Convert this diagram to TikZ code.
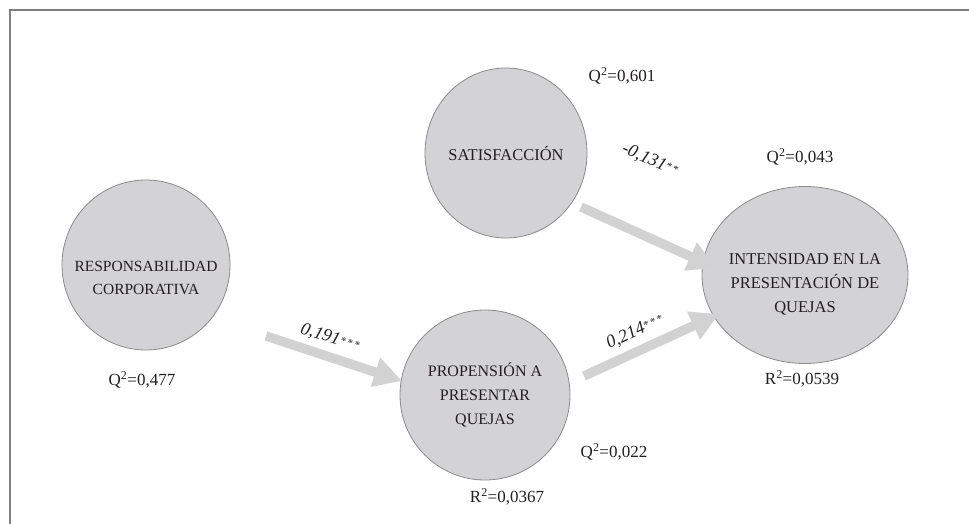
\documentclass[tikz,border=0pt]{standalone}
\usepackage{fontspec}
\setmainfont{Liberation Serif}
\usetikzlibrary{shapes.geometric,arrows.meta,calc}
\definecolor{ellfill}{HTML}{D3D3D5}
\definecolor{elldraw}{HTML}{8A8A8A}
\definecolor{arrgray}{HTML}{D2D2D2}
\definecolor{framegray}{HTML}{7F7F7F}
\definecolor{txt}{HTML}{231F20}
\tikzset{
  latent/.style={ellipse, draw=elldraw, fill=ellfill, line width=0.8pt, inner sep=0pt},
  latenttext/.style={align=center, text=txt, inner sep=0pt, font=\fontsize{16.5}{24}\selectfont},
  stat/.style={text=txt, font=\fontsize{17}{19}\selectfont, inner sep=0pt},
  coef/.style={text=txt, font=\fontsize{18}{20}\selectfont\itshape, inner sep=0pt},
  patharrow/.style={draw=arrgray, line width=9.5pt, -{Triangle[length=28pt,width=29pt]}},
  framebox/.style={draw=framegray, line width=1.6pt},
}
\newcommand{\stars}[1]{\raisebox{0.3ex}{\fontsize{11}{11}\selectfont #1}}
\begin{document}
\begin{tikzpicture}[x=1pt,y=-1pt]
\useasboundingbox (0,0) rectangle (969,524);
\draw[framebox] (10,524) -- (10,10) -- (969,10);

\node[latent, minimum width=162pt, minimum height=170pt,
  label={[latenttext]center:SATISFACCIÓN}] (sat) at (506,153) {};
\node[latent, minimum width=168pt, minimum height=170pt,
  label={[latenttext, yshift=-13pt, font=\fontsize{15.5}{23}\selectfont]center:RESPONSABILIDAD\\CORPORATIVA}] (resp) at (146,265) {};
\node[latent, minimum width=170pt, minimum height=170pt,
  label={[latenttext, font=\fontsize{16}{24}\selectfont]center:PROPENSIÓN A\\PRESENTAR\\QUEJAS}] (prop) at (485,395) {};
\node[latent, minimum width=206pt, minimum height=177pt,
  label={[latenttext, yshift=-9pt]center:INTENSIDAD EN LA\\PRESENTACIÓN DE\\QUEJAS}] (int) at (805,275) {};

\node[stat] (qsat) at (622,76) {Q\textsuperscript{2}=0,601};
\node[stat] (qresp) at (142,380) {Q\textsuperscript{2}=0,477};
\node[stat] (qprop) at (614,452) {Q\textsuperscript{2}=0,022};
\node[stat] (rprop) at (507,497) {R\textsuperscript{2}=0,0367};
\node[stat] (qint) at (800,157) {Q\textsuperscript{2}=0,043};
\node[stat] (rint) at (802,379) {R\textsuperscript{2}=0,0539};

\draw[patharrow] ($(sat.center)+(75,54)$) -- ($(int.center)+(-89,-7)$);
\draw[patharrow] ($(resp.center)+(120,71)$) -- ($(prop.center)+(-83,-14)$);
\draw[patharrow] ($(prop.center)+(99,-19)$) -- ($(int.center)+(-86,39)$);

\node[coef, rotate=-24] (c1) at (650,160) {-0,131\stars{*\,*}};
\node[coef, rotate=-18] (c2) at (330,338) {0,191\stars{*\,*\,*}};
\node[coef, rotate=25] (c3) at (635,332) {0,214\stars{*\,*\,*}};
\end{tikzpicture}
\end{document}
